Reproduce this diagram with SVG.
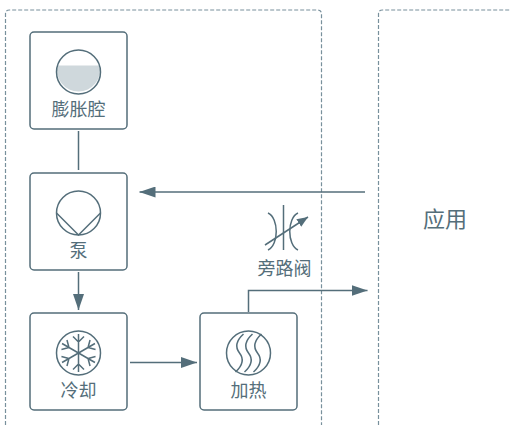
<svg xmlns="http://www.w3.org/2000/svg" width="510" height="425" viewBox="0 0 510 425">
<defs>
<style>
.box{fill:#fff;stroke:#546e7a;stroke-width:1.5}
.ic{fill:none;stroke:#546e7a;stroke-width:1.5}
.lbl{font-family:"Noto Sans CJK SC","Noto Sans",sans-serif;font-size:18px;fill:#546e7a;text-anchor:middle}
.con{fill:none;stroke:#546e7a;stroke-width:1.5}
.grp{fill:none;stroke:#78909c;stroke-width:1.2;stroke-dasharray:4 2}
</style>
<marker id="ah" markerUnits="userSpaceOnUse" markerWidth="16" markerHeight="11" refX="16" refY="5.5" orient="auto">
<path d="M0,0 L16,5.5 L0,11 Z" fill="#546e7a"/>
</marker>
<marker id="ahs" markerUnits="userSpaceOnUse" markerWidth="11" markerHeight="9" refX="11" refY="4.5" orient="auto">
<path d="M0,0 L11,4.5 L0,9 Z" fill="#546e7a"/>
</marker>
<g id="arm"><path d="M0,0 V-19 M-5.5,-16.5 L0,-11 L5.5,-16.5" fill="none" stroke="#546e7a" stroke-width="1.5"/></g>
<path id="wave" d="M4,-19 Q-7,-9 0,0 T-4,19" fill="none" stroke="#546e7a" stroke-width="1.5"/>
</defs>

<g id="groups">
<path class="grp" d="M5.5,425 V14 Q5.5,10 9.5,10 H317.5 Q321.5,10 321.5,14 V425"/>
<path class="grp" d="M378.5,425 V14 Q378.5,10 382.5,10 H510"/>
</g>

<g id="app">
<text x="445" y="227" class="lbl" style="font-size:22px">应用</text>
</g>

<g id="connectors">
<line class="con" x1="78.5" y1="131" x2="78.5" y2="170"/>
<line class="con" x1="365" y1="192" x2="139.5" y2="192" marker-end="url(#ah)"/>
<line class="con" x1="78.5" y1="272" x2="78.5" y2="310" marker-end="url(#ah)"/>
<line class="con" x1="130" y1="362.5" x2="197" y2="362.5" marker-end="url(#ah)"/>
<polyline class="con" points="248.5,312 248.5,290.5 367.5,290.5" marker-end="url(#ah)"/>
</g>

<g id="expansion">
<rect class="box" x="30" y="32" width="97" height="97" rx="4"/>
<path d="M57.5,65.5 A21.5,21.5 0 1 0 99.5,65.5 Z" fill="#cfd8dc"/>
<circle class="ic" cx="78.5" cy="72" r="22"/>
<text x="78.5" y="116" class="lbl">膨胀腔</text>
</g>

<g id="pump">
<rect class="box" x="30" y="173" width="97" height="97" rx="4"/>
<circle class="ic" cx="78.5" cy="213" r="22"/>
<path class="ic" d="M56.5,213 L78.5,235 L100.5,213"/>
<text x="78.5" y="257" class="lbl">泵</text>
</g>

<g id="cooling">
<rect class="box" x="30" y="313" width="97" height="97" rx="4"/>
<circle class="ic" cx="78.5" cy="353" r="22"/>
<g transform="translate(78.5,353)">
<use href="#arm"/>
<use href="#arm" transform="rotate(60)"/>
<use href="#arm" transform="rotate(120)"/>
<use href="#arm" transform="rotate(180)"/>
<use href="#arm" transform="rotate(240)"/>
<use href="#arm" transform="rotate(300)"/>
</g>
<text x="78.5" y="397" class="lbl">冷却</text>
</g>

<g id="heating">
<rect class="box" x="200" y="313" width="97" height="97" rx="4"/>
<circle class="ic" cx="248.5" cy="353" r="22"/>
<use href="#wave" transform="translate(239.5,353)"/>
<use href="#wave" transform="translate(248.5,353)"/>
<use href="#wave" transform="translate(257.5,353)"/>
<text x="248.5" y="397" class="lbl">加热</text>
</g>

<g id="bypass">
<line class="ic" x1="283.5" y1="205" x2="283.5" y2="250"/>
<path class="ic" d="M268,213 C279,218 279,245 268,250"/>
<path class="ic" d="M298,213 C287,218 287,245 298,250"/>
<line class="ic" x1="265" y1="245" x2="308" y2="217" marker-end="url(#ahs)"/>
<text x="284.5" y="275" class="lbl">旁路阀</text>
</g>
</svg>
